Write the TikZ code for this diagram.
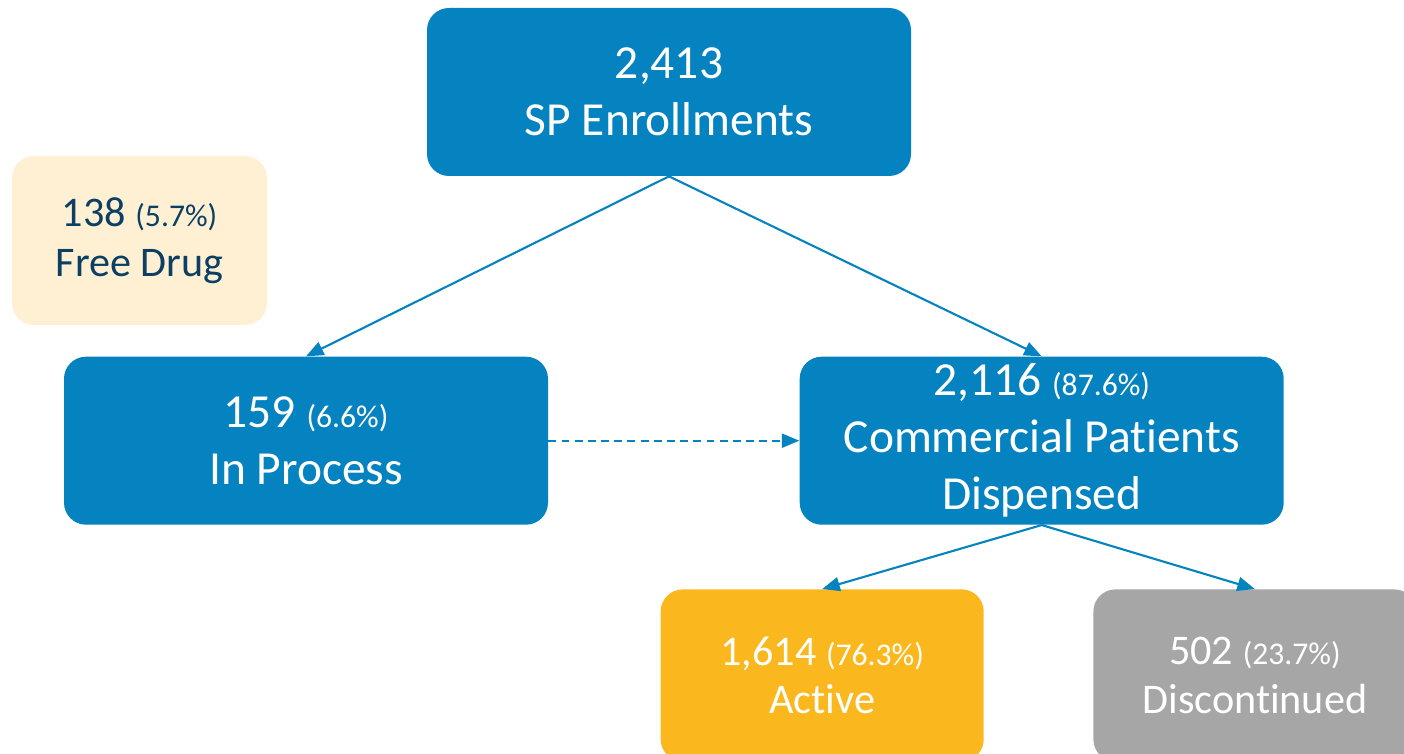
\documentclass[tikz,border=0pt]{standalone}
\usepackage{fontspec}
\setmainfont{Carlito}[RawFeature=-liga]
\usetikzlibrary{arrows.meta, positioning}

\definecolor{spblue}{HTML}{0583C0}
\definecolor{freecream}{HTML}{FFF0D3}
\definecolor{freetext}{HTML}{0B3F63}
\definecolor{activeyellow}{HTML}{FBB81E}
\definecolor{discgrey}{HTML}{A6A6A6}

\newcommand{\pctlabel}[1]{{\fontsize{18}{20}\selectfont #1}}

\begin{document}
\begin{tikzpicture}[
        bigbox/.style={rectangle, rounded corners=0.44cm, minimum width=9.68cm, minimum height=3.36cm, inner sep=0pt, text centered, align=center, fill=spblue, text=white, font=\fontsize{27}{32.4}\selectfont},
        smallbox/.style={rectangle, rounded corners=0.44cm, minimum width=6.46cm, minimum height=3.44cm, inner sep=0pt, text centered, align=center, text=white, font=\fontsize{24}{27.5}\selectfont},
        arrow/.style={line width=1.2pt, draw=spblue, -{Triangle[length=10pt, width=8pt]}}
    ]

        % Page frame
        \useasboundingbox (0,0) rectangle (28.08,-15.08);

        % Level 1: Enrollments
        \node (enroll) [bigbox] at (13.38,-1.84) {2,413\\SP Enrollments};

        % Level 2: Split
        \node (inproc) [bigbox, below=3.6cm of enroll, xshift=-7.26cm] {159 \pctlabel{(6.6\%)}\\In Process};
        \node (commercial) [bigbox, right=5.02cm of inproc] {2,116 \pctlabel{(87.6\%)}\\Commercial Patients\\Dispensed};
        \node (freedrug) [smallbox, fill=freecream, text=freetext, minimum width=5.1cm, minimum height=3.38cm, above=0.62cm of inproc, xshift=-3.33cm, font=\fontsize{24}{28.5}\selectfont] {138 \pctlabel{(5.7\%)}\\Free Drug};

        % Level 3: Status
        \node (active) [smallbox, fill=activeyellow, below=1.28cm of commercial, xshift=-4.39cm] {1,614 \pctlabel{(76.3\%)}\\Active};
        \node (discont) [smallbox, fill=discgrey, right=2.18cm of active] {502 \pctlabel{(23.7\%)}\\Discontinued};

        % Arrows
        \draw [arrow] (enroll.south) -- (inproc.north);
        \draw [arrow] (enroll.south) -- (commercial.north);
        \draw [arrow, dash pattern=on 4.5pt off 3pt] (inproc.east) -- (commercial.west);
        \draw [arrow] (commercial.south) -- (active.north);
        \draw [arrow] (commercial.south) -- (discont.north);

    \end{tikzpicture}
\end{document}
